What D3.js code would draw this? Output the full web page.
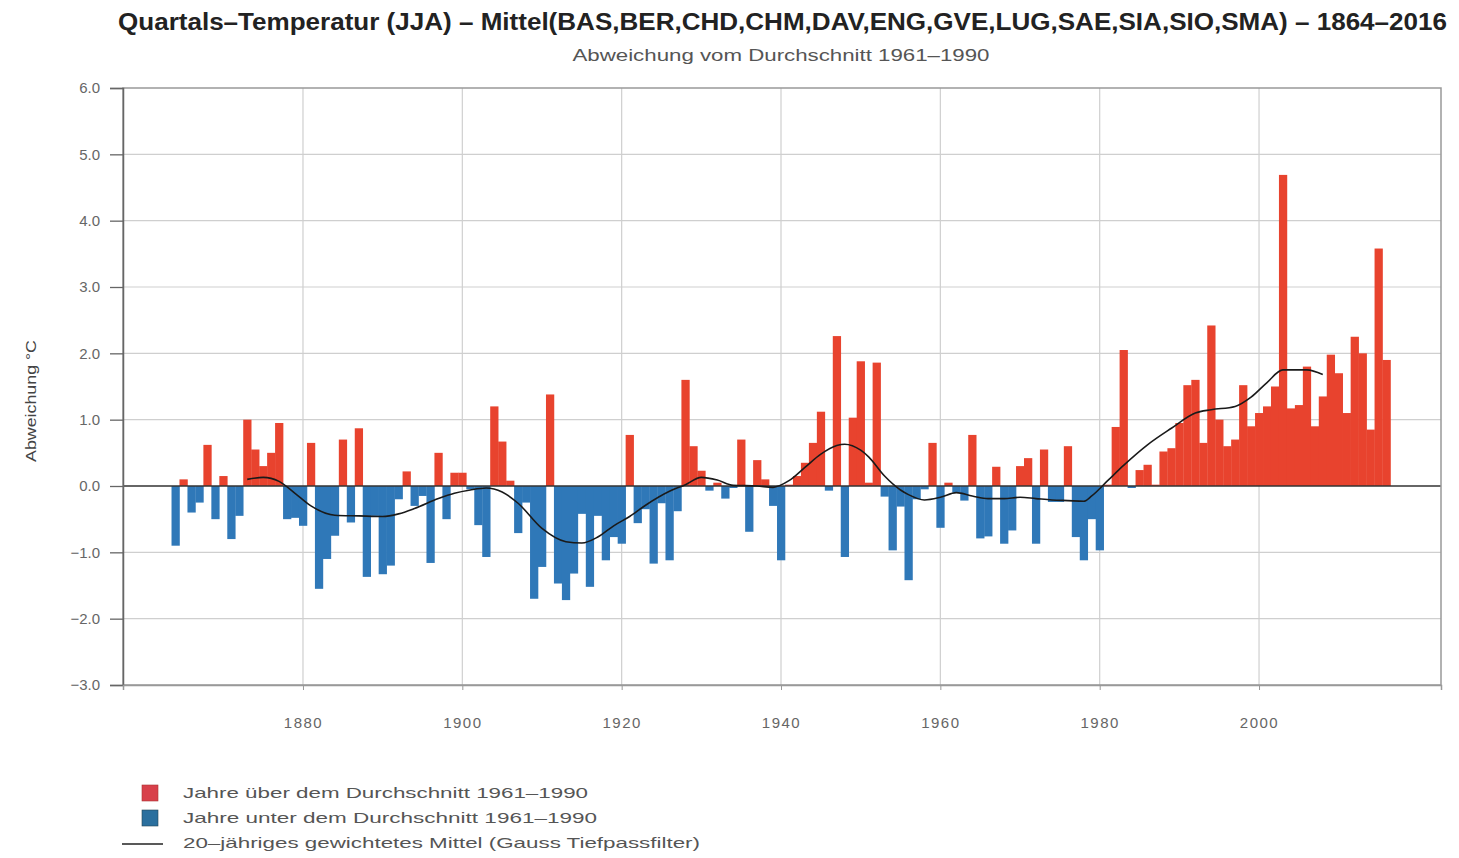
<!DOCTYPE html>
<html><head><meta charset="utf-8">
<script src="https://cdn.jsdelivr.net/npm/d3@7"></script>
<style>html,body{margin:0;padding:0;background:#fff;}svg{display:block;font-family:"Liberation Sans",Arial,sans-serif;}</style>
</head><body><svg id="c" width="1459" height="858"></svg>
<script>
const title = "Quartals–Temperatur (JJA) – Mittel(BAS,BER,CHD,CHM,DAV,ENG,GVE,LUG,SAE,SIA,SIO,SMA) – 1864–2016";
const subtitle = "Abweichung vom Durchschnitt 1961–1990";
const yLabel = "Abweichung °C";
const legendLabels = ["Jahre über dem Durchschnitt 1961–1990","Jahre unter dem Durchschnitt 1961–1990","20–jähriges gewichtetes Mittel (Gauss Tiefpassfilter)"];
const firstYear = 1864, lastYear = 2016;
const years = d3.range(firstYear, lastYear + 1);
const anomalies = [
 -0.9, 0.1, -0.4, -0.25, 0.62, -0.5, 0.15, -0.8, -0.45, 1.0,
 0.55, 0.3, 0.5, 0.95, -0.5, -0.48, -0.6, 0.65, -1.55, -1.1,
 -0.75, 0.7, -0.55, 0.87, -1.37, -0.45, -1.33, -1.2, -0.2, 0.22,
 -0.3, -0.15, -1.16, 0.5, -0.5, 0.2, 0.2, -0.05, -0.59, -1.07,
 1.2, 0.67, 0.08, -0.71, -0.25, -1.7, -1.22, 1.38, -1.47, -1.72,
 -1.32, -0.42, -1.52, -0.45, -1.12, -0.77, -0.87, 0.77, -0.56, -0.35,
 -1.17, -0.26, -1.12, -0.38, 1.6, 0.6, 0.23, -0.07, 0.05, -0.19,
 -0.03, 0.7, -0.69, 0.39, 0.1, -0.3, -1.12, 0.02, 0.15, 0.35,
 0.65, 1.12, -0.07, 2.26, -1.07, 1.03, 1.88, 0.05, 1.86, -0.16,
 -0.97, -0.31, -1.42, -0.2, -0.05, 0.65, -0.63, 0.05, -0.1, -0.22,
 0.77, -0.79, -0.76, 0.29, -0.87, -0.67, 0.3, 0.42, -0.87, 0.55,
 -0.24, -0.24, 0.6, -0.77, -1.12, -0.5, -0.97, 0.02, 0.89, 2.05,
 -0.03, 0.24, 0.32, 0.02, 0.52, 0.57, 0.95, 1.52, 1.6, 0.65,
 2.42, 1.0, 0.6, 0.7, 1.52, 0.9, 1.1, 1.2, 1.5, 4.69,
 1.17, 1.22, 1.8, 0.9, 1.35, 1.98, 1.7, 1.1, 2.25, 2.0,
 0.85, 3.58, 1.9
];
const smoothYears = [1873,1875,1877,1879,1881,1884,1887,1890,1892,1894,1897,1899,1901,1903,1905,1907,1910,1913,1915,1917,1919,1921,1923,1926,1928,1930,1932,1934,1937,1939,1941,1943,1945,1947,1948,1950,1951,1953,1955,1956,1958,1960,1962,1964,1966,1968,1970,1972,1974,1976,1978,1979,1981,1983,1986,1989,1992,1994,1997,1999,2001,2003,2006,2008];
const smoothValues = [0.1,0.13,0.07,-0.11,-0.3,-0.44,-0.45,-0.46,-0.42,-0.34,-0.19,-0.11,-0.06,-0.03,-0.09,-0.26,-0.64,-0.84,-0.86,-0.77,-0.6,-0.46,-0.29,-0.08,0.02,0.13,0.09,0.01,0.0,-0.02,0.08,0.28,0.48,0.61,0.63,0.54,0.44,0.15,-0.06,-0.13,-0.21,-0.17,-0.1,-0.15,-0.19,-0.19,-0.17,-0.19,-0.21,-0.22,-0.23,-0.15,0.08,0.31,0.62,0.87,1.1,1.15,1.2,1.34,1.56,1.75,1.75,1.68];
const yTicks = [-3,-2,-1,0,1,2,3,4,5,6];
const xTicks = [1880,1900,1920,1940,1960,1980,2000];

const RED = "#e8432e", BLUE = "#2f78b8";
const FONT = "Liberation Sans, Arial, sans-serif";
const svg = d3.select("#c");
const L = 123, R = 1441, T = 88, B = 685;
const x = d3.scaleLinear().domain([1857.41, 2022.84]).range([L, R]);
const y = d3.scaleLinear().domain([-3, 6]).range([B, T]);
const bw = x(1) - x(0);

// titles
svg.append("text").attr("x", 782.5).attr("y", 30).attr("text-anchor","middle")
  .attr("font-family", "Liberation Sans Narrow, Liberation Sans, Arial, sans-serif")
  .attr("font-size", 23).attr("font-weight","bold").attr("fill","#222")
  .attr("textLength", 1329).attr("lengthAdjust","spacingAndGlyphs").text(title);
svg.append("text").attr("x", 781).attr("y", 61).attr("text-anchor","middle")
  .attr("font-size", 16).attr("fill","#555")
  .attr("textLength", 417).attr("lengthAdjust","spacingAndGlyphs").text(subtitle);

// grid
const g = svg.append("g");
g.selectAll("line.hg").data(yTicks.filter(d => d !== 0 && d !== 6 && d !== -3)).join("line")
  .attr("x1", L).attr("x2", R).attr("y1", d => y(d)).attr("y2", d => y(d))
  .attr("stroke", "#cfcfcf").attr("stroke-width", 1.2);
g.selectAll("line.vg").data(xTicks).join("line")
  .attr("x1", d => x(d)).attr("x2", d => x(d)).attr("y1", T).attr("y2", B)
  .attr("stroke", "#cfcfcf").attr("stroke-width", 1.2);

// bars
svg.append("g").selectAll("rect").data(years.map((yr, i) => ({yr, v: anomalies[i]}))).join("rect")
  .attr("x", d => x(d.yr) - bw / 2)
  .attr("width", bw + 0.3)
  .attr("y", d => y(Math.max(0, d.v)))
  .attr("height", d => Math.abs(y(d.v) - y(0)))
  .attr("fill", d => d.v >= 0 ? RED : BLUE);

// zero line
svg.append("line").attr("x1", L).attr("x2", R).attr("y1", y(0)).attr("y2", y(0))
  .attr("stroke", "#333").attr("stroke-width", 1.5);

// smooth line
const line = d3.line().x(d => x(d[0])).y(d => y(d[1])).curve(d3.curveMonotoneX);
svg.append("path").datum(smoothYears.map((yr, i) => [yr, smoothValues[i]]))
  .attr("d", line).attr("fill","none").attr("stroke","#1a1a1a").attr("stroke-width", 1.6);

// frame
svg.append("rect").attr("x", L).attr("y", T).attr("width", R - L).attr("height", B - T)
  .attr("fill","none").attr("stroke","#999").attr("stroke-width", 1.5);

// y axis
const ya = svg.append("g").attr("transform", `translate(${L},0)`)
  .call(d3.axisLeft(y).tickValues(yTicks).tickFormat(d3.format(".1f")).tickSize(13).tickPadding(10));
ya.select(".domain").attr("stroke","#666").attr("stroke-width",1.5);
ya.selectAll(".tick line").attr("stroke","#666").attr("stroke-width",1.3);
ya.selectAll("text").attr("font-size", 15).attr("fill","#666").attr("font-family",FONT);

// x axis
const xa = svg.append("g").attr("transform", `translate(0,${B})`)
  .call(d3.axisBottom(x).tickValues(xTicks).tickFormat(d3.format("d")).tickSize(5).tickPadding(27));
xa.select(".domain").attr("stroke","#999").attr("stroke-width",1.5);
xa.selectAll(".tick line").attr("stroke","#999");
xa.selectAll("text").attr("font-size", 15).attr("fill","#666").attr("font-family",FONT)
  .attr("letter-spacing", 1.5);

// y label
svg.append("text").attr("transform","translate(36,401) rotate(-90)").attr("text-anchor","middle")
  .attr("font-size", 15).attr("fill","#444").attr("textLength", 122).attr("lengthAdjust","spacingAndGlyphs").text(yLabel);

// legend
const lg = svg.append("g");
lg.append("rect").attr("x",142).attr("y",785).attr("width",16).attr("height",16).attr("fill","#d8404a").attr("stroke","#a33").attr("stroke-width",0.6);
lg.append("rect").attr("x",142).attr("y",810).attr("width",16).attr("height",16).attr("fill","#2a6f9e").attr("stroke","#245").attr("stroke-width",0.6);
lg.append("line").attr("x1",122).attr("x2",163).attr("y1",844).attr("y2",844).attr("stroke","#222").attr("stroke-width",1.6);
const lw = [405, 414, 517];
legendLabels.forEach((t, i) => {
  lg.append("text").attr("x",183).attr("y",798 + i * 25).attr("font-size",15).attr("fill","#555")
    .attr("textLength", lw[i]).attr("lengthAdjust","spacingAndGlyphs").text(t);
});
</script></body></html>
